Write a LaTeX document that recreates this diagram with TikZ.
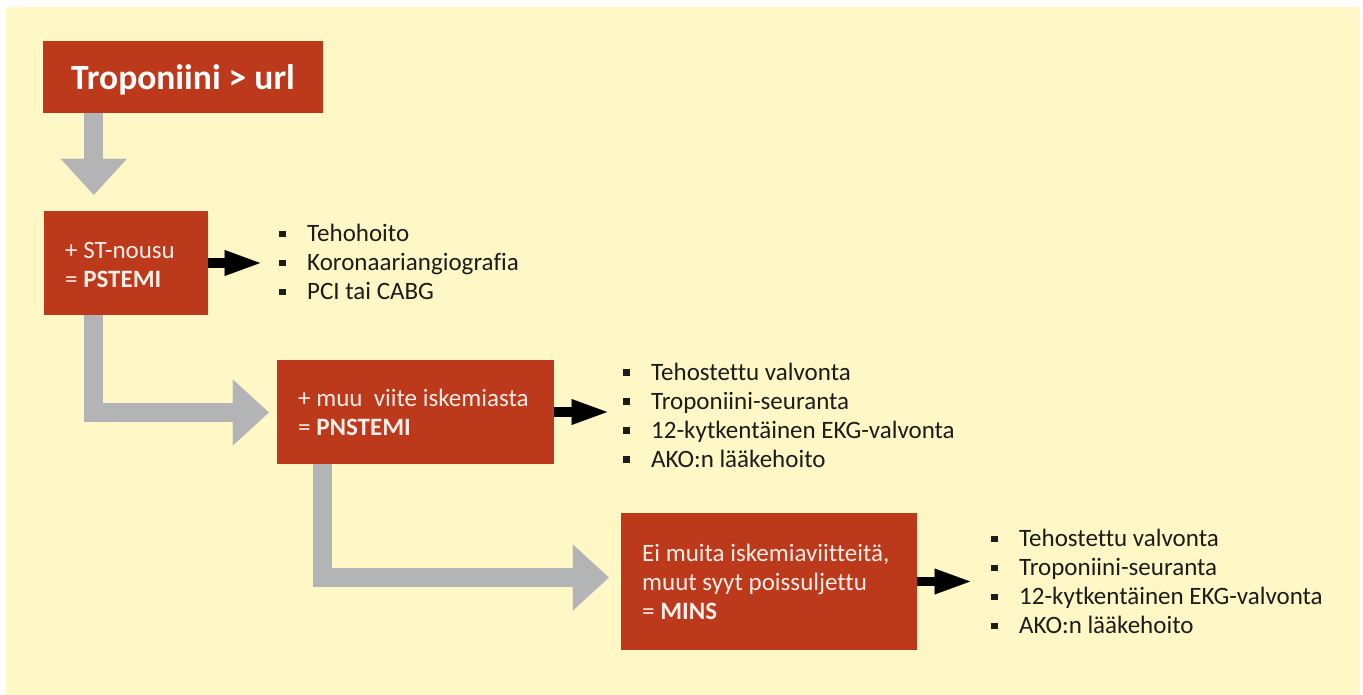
\documentclass[tikz,border=0pt]{standalone}
\usepackage{fontspec}
\setmainfont{Carlito}[Ligatures=NoCommon]
\usetikzlibrary{arrows.meta,calc}
\definecolor{bgyellow}{HTML}{FFF7C5}
\definecolor{boxred}{HTML}{BD391B}
\definecolor{arrgray}{HTML}{B3B4B6}
\definecolor{boxtxt}{HTML}{FCEEE8}
\definecolor{listtxt}{HTML}{1C1C1C}
\newcommand{\blt}{\makebox[28pt][l]{\rule[4.5pt]{6.5pt}{6.5pt}}}
\begin{document}
\begin{tikzpicture}[x=1pt,y=-1pt,
  redbox/.style={fill=boxred, draw=none, inner sep=0pt},
  boxtext/.style={anchor=base west, inner sep=0pt, text=boxtxt, font=\fontsize{25}{29}\selectfont},
  listnode/.style={anchor=base west, inner sep=0pt, text=listtxt, font=\fontsize{25}{29}\selectfont},
  grayarrow/.style={draw=arrgray, line width=19pt, line join=miter,
    -{Triangle[length=36pt,width=66pt,line width=0.01pt]}},
  blackarrow/.style={draw=black, line width=9.5pt,
    -{Triangle[length=35.5pt,width=26pt,line width=0.01pt]}}]
\useasboundingbox (0,0) rectangle (1363,695);
\fill[white] (0,0) rectangle (1363,695);
\fill[bgyellow] (6,7) rectangle (1360,695);

% boxes
\node[redbox, minimum width=280pt, minimum height=72pt, text=white,
  font=\fontsize{35.5}{40}\selectfont\bfseries, text depth=0pt] (b1) at (183,77) {Troponiini > url};
\node[redbox, minimum width=164pt, minimum height=104pt] (b2) at (126,263) {};
\node[redbox, minimum width=277pt, minimum height=104pt] (b3) at (415.5,412) {};
\node[redbox, minimum width=296pt, minimum height=137pt] (b4) at (769,581.5) {};

% box texts
\node[boxtext] (t2) at (65,258.5) {\parbox[t]{140pt}{+ ST-nousu\\= \textbf{PSTEMI}}};
\node[boxtext] (t3) at (298,406.5) {\parbox[t]{250pt}{+ muu\ \ viite iskemiasta\\= \textbf{PNSTEMI}}};
\node[boxtext] (t4) at (642,561.5) {\parbox[t]{270pt}{Ei muita iskemiaviitteitä,\\muut syyt poissuljettu\\= \textbf{MINS}}};

% lists
\node[listnode] (l1) at (279,241.7) {\parbox[t]{300pt}{\blt Tehohoito\\\blt Koronaariangiografia\\\blt PCI tai CABG}};
\node[listnode] (l2) at (623,380) {\parbox[t]{360pt}{\blt Tehostettu valvonta\\\blt Troponiini-seuranta\\\blt 12-kytkentäinen EKG-valvonta\\\blt AKO:n lääkehoito}};
\node[listnode] (l3) at (991,546.5) {\parbox[t]{360pt}{\blt Tehostettu valvonta\\\blt Troponiini-seuranta\\\blt 12-kytkentäinen EKG-valvonta\\\blt AKO:n lääkehoito}};

% gray flow arrows
\draw[grayarrow] ($(b1.south west)+(51,0)$) -- ($(b2.north west)+(50,-16)$);
\draw[grayarrow] ($(b2.south west)+(50,0)$) |- ($(b3.west)+(-8,0.5)$);
\draw[grayarrow] ($(b3.south west)+(46,0)$) |- ($(b4.west)+(-12,-4)$);

% black arrows
\draw[blackarrow, shorten >=19pt] (b2.east) -- (b2.east -| l1.west);
\draw[blackarrow, shorten >=16pt] (b3.east) -- (b3.east -| l2.west);
\draw[blackarrow, shorten >=21pt] (b4.east) -- (b4.east -| l3.west);
\end{tikzpicture}
\end{document}
